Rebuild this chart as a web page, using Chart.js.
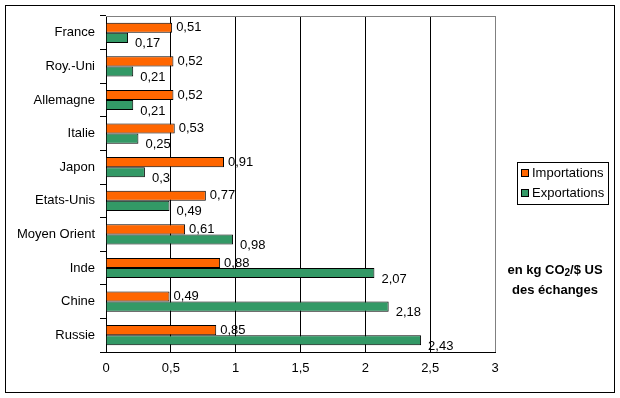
<!DOCTYPE html>
<html>
<head>
<meta charset="utf-8">
<script src="https://cdn.jsdelivr.net/npm/chart.js@4"></script>
<style>
  body { margin: 0; background: #fff; }
</style>
</head>
<body>
<canvas id="c" width="620" height="398"></canvas>
<script>
// data
const categories = ['France', 'Roy.-Uni', 'Allemagne', 'Italie', 'Japon', 'Etats-Unis', 'Moyen Orient', 'Inde', 'Chine', 'Russie'];
const importations = [0.51, 0.52, 0.52, 0.53, 0.91, 0.77, 0.61, 0.88, 0.49, 0.85];
const exportations = [0.17, 0.21, 0.21, 0.25, 0.3, 0.49, 0.98, 2.07, 2.18, 2.43];
const xTicks = [0, 0.5, 1, 1.5, 2, 2.5, 3];
const seriesNames = ['Importations', 'Exportations'];
const unitLines = ['en kg CO|2|/$ US', 'des échanges'];

const FONT = '"Liberation Sans", Arial, sans-serif';
const fmt = v => String(v).replace('.', ',');

// frame, plot border, value labels, legend and unit note
const extras = {
  id: 'extras',
  beforeDatasetsDraw(chart) {
    const { ctx, chartArea: a } = chart;
    ctx.save();
    ctx.strokeStyle = '#808080';
    ctx.lineWidth = 1;
    ctx.beginPath();
    ctx.moveTo(a.left, Math.round(a.top) + 0.5);
    ctx.lineTo(Math.round(a.right) + 0.5, Math.round(a.top) + 0.5);
    ctx.lineTo(Math.round(a.right) + 0.5, a.bottom);
    ctx.stroke();
    ctx.restore();
  },
  afterDraw(chart) {
    const { ctx } = chart;
    ctx.save();
    // outer frame
    ctx.strokeStyle = '#000';
    ctx.lineWidth = 1;
    ctx.strokeRect(5.5, 5.5, 609, 387);

    // value labels
    ctx.font = '13px ' + FONT;
    ctx.fillStyle = '#000';
    ctx.textBaseline = 'middle';
    ctx.textAlign = 'left';
    chart.data.datasets.forEach((ds, i) => {
      const meta = chart.getDatasetMeta(i);
      meta.data.forEach((bar, j) => {
        const dy = i === 0 ? 0 : 6;
        const dx = i === 0 ? 4 : 7;
        ctx.fillText(fmt(ds.data[j]), bar.x + dx, bar.y + dy);
      });
    });

    // legend
    const lx = 517, ly = 162, lw = 91, lh = 42;
    ctx.strokeRect(lx + 0.5, ly + 0.5, lw, lh);
    chart.data.datasets.forEach((ds, i) => {
      const y = ly + 11 + i * 20;
      ctx.fillStyle = ds.backgroundColor;
      ctx.fillRect(lx + 4.5, y - 3.5, 7, 7);
      ctx.strokeRect(lx + 4.5, y - 3.5, 7, 7);
      ctx.fillStyle = '#000';
      ctx.fillText(ds.label, lx + 15, y);
    });

    // unit note, with subscript
    const cx = 555;
    unitLines.forEach((line, k) => {
      const y = 270 + k * 20;
      const parts = line.split('|');
      const sub = 'bold 10px ' + FONT;
      const main = 'bold 13px ' + FONT;
      let w = 0;
      parts.forEach((p, n) => {
        ctx.font = n === 1 ? sub : main;
        w += ctx.measureText(p).width;
      });
      let x = cx - w / 2;
      parts.forEach((p, n) => {
        ctx.font = n === 1 ? sub : main;
        ctx.fillText(p, x, n === 1 ? y + 3 : y);
        x += ctx.measureText(p).width;
      });
    });
    ctx.restore();
  }
};

new Chart(document.getElementById('c'), {
  type: 'bar',
  data: {
    labels: categories,
    datasets: [
      { label: seriesNames[0], data: importations, backgroundColor: '#FF6600', borderColor: '#000', borderWidth: 1 },
      { label: seriesNames[1], data: exportations, backgroundColor: '#339966', borderColor: '#000', borderWidth: 1 }
    ]
  },
  options: {
    indexAxis: 'y',
    responsive: false,
    animation: false,
    events: [],
    layout: { padding: { left: 6, top: 16, right: 125, bottom: 0 } },
    categoryPercentage: 0.6,
    barPercentage: 1,
    plugins: { legend: { display: false }, tooltip: { enabled: false } },
    scales: {
      x: {
        min: 0,
        max: 3,
        afterBuildTicks: s => { s.ticks = xTicks.map(v => ({ value: v })); },
        afterFit: s => { s.height = 46; },
        ticks: { color: '#000', font: { family: FONT, size: 13 }, padding: 9, callback: v => fmt(v) },
        grid: {
          color: c => (c.tick && c.tick.value === 3 ? '#808080' : '#000'),
          drawTicks: false
        },
        border: { color: '#000' }
      },
      y: {
        afterFit: s => { s.width = 100; },
        ticks: { color: '#000', font: { family: FONT, size: 13 }, padding: 5 },
        grid: { drawOnChartArea: false, color: '#000', tickLength: 6 },
        border: { color: '#000' }
      }
    }
  },
  plugins: [extras]
});
</script>
</body>
</html>
